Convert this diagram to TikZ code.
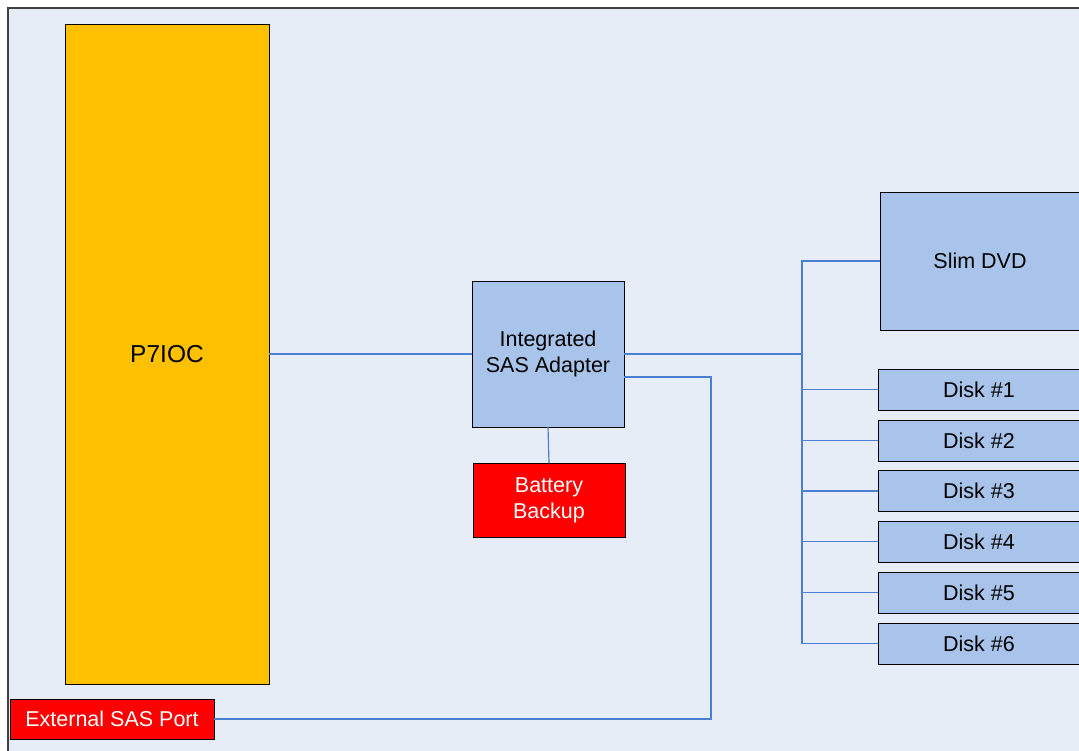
\documentclass[tikz,border=0pt]{standalone}
\usepackage{fontspec}
\setmainfont{Liberation Sans}
\definecolor{bg}{HTML}{E7EDF7}
\definecolor{boxblue}{HTML}{A9C4EA}
\definecolor{gold}{HTML}{FFC000}
\definecolor{wire}{HTML}{4A80D4}
\definecolor{frame}{HTML}{404040}
\begin{document}
\begin{tikzpicture}[x=1pt,y=-1pt,
  base/.style={draw=black,line width=1pt,inner sep=0pt,outer sep=0pt,align=center,font=\fontsize{21.5}{26}\selectfont},
  bluebox/.style={base,fill=boxblue,text=black},
  redbox/.style={base,fill=red,text=white},
  goldbox/.style={base,fill=gold,text=black,font=\fontsize{24.5}{28}\selectfont},
  wireline/.style={draw=wire,line width=1.2pt},
  busline/.style={draw=wire,line width=2pt}]
\useasboundingbox (0,0) rectangle (1079,750);
\clip (0,0) rectangle (1079,750);
\fill[white] (0,0) rectangle (1079,750);
\draw[frame,line width=1.6pt,fill=bg] (8,8) rectangle (1110,780);
\node[goldbox,minimum width=204pt,minimum height=660pt] (p7) at (167,354) {P7IOC};
\node[bluebox,minimum width=152pt,minimum height=146pt] (sas) at (548,354) {Integrated\\SAS Adapter};
\node[redbox,minimum width=152pt,minimum height=74pt] (bat) at (549,500) {Battery\\Backup};
\node[bluebox,minimum width=200pt,minimum height=138pt] (dvd) at (980,261) {Slim DVD};
\node[bluebox,minimum width=202pt,minimum height=41pt] (d1) at (979,389.5) {Disk \#1};
\node[bluebox,minimum width=202pt,minimum height=41pt] (d2) at (979,440.5) {Disk \#2};
\node[bluebox,minimum width=202pt,minimum height=41pt] (d3) at (979,491) {Disk \#3};
\node[bluebox,minimum width=202pt,minimum height=41pt] (d4) at (979,541.5) {Disk \#4};
\node[bluebox,minimum width=202pt,minimum height=41pt] (d5) at (979,592.5) {Disk \#5};
\node[bluebox,minimum width=202pt,minimum height=41pt] (d6) at (979,643.5) {Disk \#6};
\node[redbox,minimum width=204pt,minimum height=40pt] (ext) at (112,719) {External SAS Port};
\coordinate (J) at (802,354);
\coordinate (K) at (711,377);
\draw[wireline] (p7.east) -- (sas.west);
\draw[wireline] (sas.south) -- (bat.north);
\draw[busline] (sas.east) -- (J);
\draw[wireline] (J) |- (dvd.west);
\draw[busline] (J) -- (J |- d6.west);
\draw[wireline] (J |- d6.west) -- (d6.west);
\foreach \d in {d1,d2,d3,d4,d5} { \draw[wireline] (J |- \d.west) -- (\d.west); }
\draw[wireline] ([yshift=-23pt]sas.east) -- (K) |- (ext.east);
\end{tikzpicture}
\end{document}
